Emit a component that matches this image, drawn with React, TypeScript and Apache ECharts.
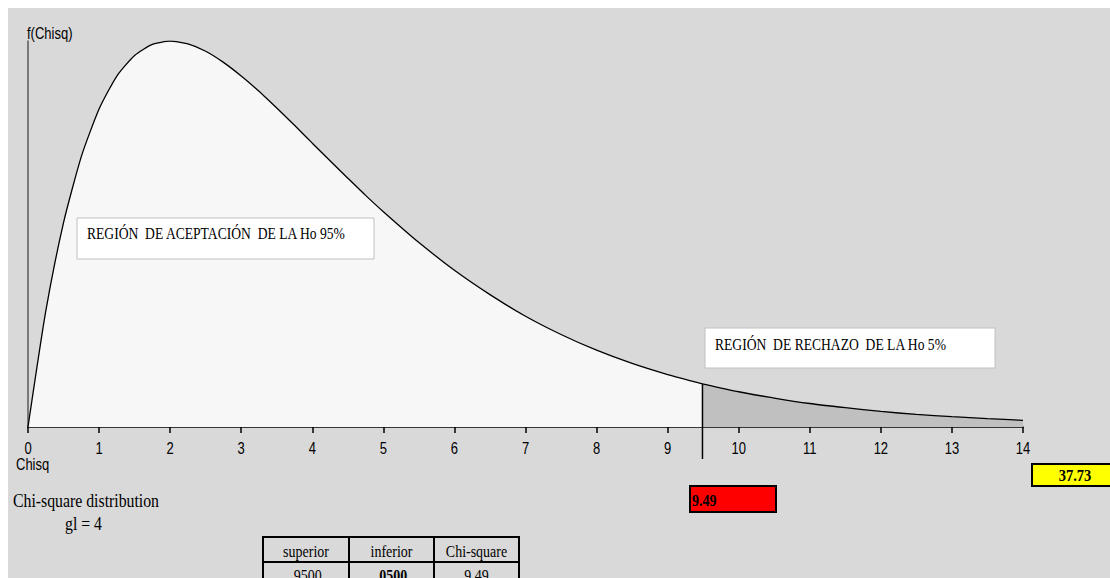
import React, { useEffect, useRef } from "react";
import * as echarts from "echarts";

// Chi-square density (gl = 4)
const acceptX = [0, 0.25, 0.5, 0.75, 1, 1.25, 1.5, 1.75, 2, 2.25, 2.5, 2.75, 3, 3.25, 3.5, 3.75, 4, 4.25, 4.5, 4.75, 5, 5.5, 6, 6.5, 7, 7.5, 8, 8.5, 9, 9.49];
const acceptY = [0, 0.0552, 0.0974, 0.1289, 0.1516, 0.1673, 0.1771, 0.1824, 0.1839, 0.1826, 0.1791, 0.1738, 0.1673, 0.16, 0.1521, 0.1438, 0.1353, 0.1269, 0.1186, 0.1104, 0.1026, 0.0879, 0.0747, 0.0631, 0.0528, 0.0441, 0.0366, 0.0303, 0.025, 0.0206];
const rejectX = [9.49, 10, 10.5, 11, 11.5, 12, 12.5, 13, 13.5, 14];
const rejectY = [0.0206, 0.0168, 0.0138, 0.0112, 0.0092, 0.0074, 0.006, 0.0049, 0.004, 0.0032];

const criticalValue = 9.49;
const criticalDensity = 0.0206;
const xTicks = [0, 1, 2, 3, 4, 5, 6, 7, 8, 9, 10, 11, 12, 13, 14];
const tableHeaders = ["superior", "inferior", "Chi-square"];
const tableValues = [".9500", ".0500", "9.49"];
const statValue = "37.73";
const criticalLabel = "9.49";

const SERIF = "'Liberation Serif', 'Times New Roman', serif";
const SANS = "'Liberation Sans', Arial, sans-serif";

export default function App() {
  const ref = useRef<HTMLDivElement>(null);
  useEffect(() => {
    if (!ref.current) return;
    const chart = echarts.init(ref.current, undefined, { renderer: "svg" });
    chart.setOption({
      animation: false,
      backgroundColor: "#d9d9d9",
      grid: { left: 20, right: 87, top: 33, bottom: 151 },
      xAxis: {
        type: "value",
        min: 0,
        max: 14,
        interval: 1,
        axisLine: { show: true, lineStyle: { color: "#000", width: 1.5 } },
        axisTick: { show: true, length: 6, lineStyle: { color: "#000", width: 1.5 } },
        axisLabel: { show: false },
        splitLine: { show: false },
      },
      yAxis: {
        type: "value",
        min: 0,
        max: 0.184,
        axisLine: { show: true, lineStyle: { color: "#595959", width: 1.5 } },
        axisTick: { show: false },
        axisLabel: { show: false },
        splitLine: { show: false },
      },
      series: [
        {
          type: "line",
          data: acceptX.map((x, i) => [x, acceptY[i]]),
          showSymbol: false,
          smooth: 0.2,
          lineStyle: { color: "#000", width: 1.3 },
          areaStyle: { color: "#f7f7f7", opacity: 1 },
          z: 2,
        },
        {
          type: "line",
          data: rejectX.map((x, i) => [x, rejectY[i]]),
          showSymbol: false,
          smooth: 0.2,
          lineStyle: { color: "#000", width: 1.3 },
          areaStyle: { color: "#c0c0c0", opacity: 1 },
          z: 2,
        },
      ],
    });

    const top = chart.convertToPixel({ gridIndex: 0 }, [criticalValue, criticalDensity]) as number[];
    const base = chart.convertToPixel({ gridIndex: 0 }, [criticalValue, 0]) as number[];

    const tickEls = xTicks.map((v) => {
      const p = chart.convertToPixel({ gridIndex: 0 }, [v, 0]) as number[];
      return {
        type: "text",
        x: p[0],
        y: p[1] + 21,
        scaleY: 1.3,
        style: { text: String(v), fontFamily: SANS, fontSize: 13, fill: "#000", align: "center", verticalAlign: "middle" },
      };
    });

    const serif = (text: string, x: number, y: number, size: number, extra: any = {}) => ({
      type: "text",
      x,
      y,
      scaleY: 1.22,
      z: 11,
      style: { text, fontFamily: SERIF, fontSize: size, fill: "#000", verticalAlign: "middle", ...extra },
    });

    const colX = [255, 341, 426, 511];
    const tableTop = 529;
    const rowH = 25;
    const tableEls: any[] = [];
    for (let c = 0; c < 3; c++) {
      for (let r = 0; r < 2; r++) {
        tableEls.push({
          type: "rect",
          shape: { x: colX[c], y: tableTop + r * rowH, width: colX[c + 1] - colX[c], height: rowH },
          style: { fill: "none", stroke: "#000", lineWidth: 2 },
        });
      }
      const cx = (colX[c] + colX[c + 1]) / 2;
      tableEls.push(serif(tableHeaders[c], cx, tableTop + rowH / 2 + 1, 14, { align: "center" }));
      tableEls.push(
        serif(tableValues[c], cx, tableTop + rowH + rowH / 2, 14, {
          align: "center",
          fontWeight: c === 1 ? "bold" : "normal",
        })
      );
    }

    chart.setOption({
      graphic: [
        {
          type: "line",
          shape: { x1: top[0], y1: top[1], x2: base[0], y2: base[1] + 32 },
          style: { stroke: "#000", lineWidth: 1.5 },
          z: 10,
        },
        ...tickEls,
        {
          type: "text",
          x: 19,
          y: 25,
          scaleY: 1.3,
          style: { text: "f(Chisq)", fontFamily: SANS, fontSize: 13, fill: "#000", verticalAlign: "middle" },
        },
        {
          type: "text",
          x: 8,
          y: 456,
          scaleY: 1.3,
          style: { text: "Chisq", fontFamily: SANS, fontSize: 13, fill: "#000", verticalAlign: "middle" },
        },
        {
          type: "rect",
          shape: { x: 69, y: 210, width: 297, height: 41 },
          style: { fill: "#fff", stroke: "#c0c0c0", lineWidth: 1 },
          z: 10,
        },
        serif("REGIÓN  DE ACEPTACIÓN  DE LA Ho 95%", 79, 225, 13.6),
        {
          type: "rect",
          shape: { x: 697, y: 320, width: 290, height: 40 },
          style: { fill: "#fff", stroke: "#c0c0c0", lineWidth: 1 },
          z: 10,
        },
        serif("REGIÓN  DE RECHAZO  DE LA Ho 5%", 707, 336, 13.6),
        {
          type: "rect",
          shape: { x: 682, y: 478, width: 86, height: 26 },
          style: { fill: "#ff0000", stroke: "#000", lineWidth: 2 },
        },
        serif(criticalLabel, 684, 492, 14, { fontWeight: "bold" }),
        {
          type: "rect",
          shape: { x: 1024, y: 456, width: 90, height: 22 },
          style: { fill: "#ffff00", stroke: "#000", lineWidth: 2 },
        },
        serif(statValue, 1067, 467, 14.5, { fontWeight: "bold", align: "center" }),
        serif("Chi-square distribution", 5, 492, 15.8),
        serif("gl = 4", 57, 515, 15.8),
        ...tableEls,
      ],
    });
    return () => chart.dispose();
  }, []);
  return (
    <div
      ref={ref}
      style={{ position: "fixed", left: 8, top: 8, width: 1102, height: 570, overflow: "hidden" }}
    />
  );
}
